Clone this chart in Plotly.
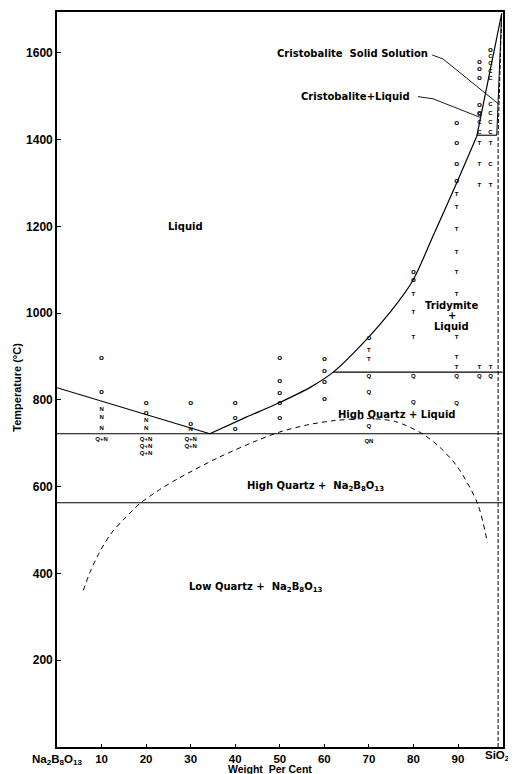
import plotly.graph_objects as go

# ---------------- data ----------------
# phase boundaries (weight % SiO2, temperature °C)
liq_left_x = [0, 34.3]
liq_left_t = [828, 722]
liq_trid_x = [34.3, 42, 50, 57, 62, 69.8, 75, 79.8, 84.5, 89.7, 94.2]
liq_trid_t = [722, 758, 794, 830, 864, 943, 1005, 1074, 1180, 1300, 1407]
liq_crist_x = [94.2, 97, 99.8]
liq_crist_t = [1407, 1548, 1690]
eutectic_t = 722
quartz_inv_t = 563
trid_quartz_x = [62, 100]
trid_quartz_t = [864, 864]
crist_trid_x = [94.2, 98.7]
crist_trid_t = [1410, 1410]
solidus_x = [98.7, 99.8]
solidus_t = [1410, 1690]
ss_limit_x = [99.0, 99.0, 99.8]
ss_limit_t = [0, 1410, 1690]
meta_x = [5.9, 7.5, 9.5, 12, 15, 18.6, 23, 27.6, 36, 44.8, 50, 56, 62, 70, 76, 82, 86, 90, 94.4, 96.6]
meta_t = [361, 405, 448, 490, 525, 561, 593, 621, 666, 706, 726, 742, 752, 757, 750, 722, 690, 644, 561, 471]

# experimental points by phase letter
o_x = [10, 10, 20, 20, 30, 30, 40, 40, 40, 50, 50, 50, 50, 50, 60, 60, 60, 60, 70, 80, 80,
       89.7, 89.7, 89.7, 89.7, 94.8, 94.8, 94.8, 94.8, 94.8, 97.3]
o_t = [897, 818, 793, 770, 793, 745, 793, 759, 733, 897, 844, 816, 794, 759, 894, 867, 842, 802, 943, 1094, 1076,
       1439, 1391, 1343, 1305, 1579, 1563, 1543, 1480, 1462, 1607]
n_x = [10, 10, 10, 20, 20, 30]
n_t = [779, 759, 733, 752, 733, 731]
qn_x = [10, 20, 20, 20, 30, 30]
qn_t = [708, 708, 692, 676, 708, 692]
q_x = [70, 70, 70, 80, 80, 89.7, 89.7, 94.8, 97.3]
q_t = [853, 816, 738, 853, 793, 853, 791, 853, 853]
qn2_x = [70]
qn2_t = [703]
t_x = [70, 70, 80, 80, 80, 89.7, 89.7, 89.7, 89.7, 89.7, 89.7, 89.7, 89.7, 89.7,
       94.8, 94.8, 94.8, 94.8, 97.3, 97.3, 97.3]
t_t = [913, 894, 1044, 1002, 943, 1273, 1244, 1193, 1140, 1094, 1044, 943, 897, 874,
       1391, 1343, 1294, 874, 1391, 1294, 874]
c_x = [94.8, 94.8, 94.8, 97.3, 97.3, 97.3, 97.3, 97.3, 97.3, 97.3, 97.3, 97.3]
c_t = [1458, 1439, 1416, 1591, 1575, 1556, 1540, 1480, 1460, 1439, 1416, 1343]

# axis ticks
x_tickvals = [0, 10, 20, 30, 40, 50, 60, 70, 80, 90, 100]
x_ticktext = ["Na<sub>2</sub>B<sub>8</sub>O<sub>13</sub>", "10", "20", "30", "40", "50",
              "60", "70", "80", "90", ""]
x_end_label = "SiO<sub>2</sub>"
y_tickvals = [200, 400, 600, 800, 1000, 1200, 1400, 1600]

# region labels
labels = [
    ("Liquid", 28.8, 1200),
    ("Cristobalite  Solid Solution", 66.4, 1598),
    ("Cristobalite+Liquid", 67.0, 1499),
    ("Tridymite", 88.6, 1018),
    ("+", 88.6, 994),
    ("Liquid", 88.6, 969),
    ("High Quartz + Liquid", 76.1, 766),
    ("High Quartz +  Na<sub>2</sub>B<sub>8</sub>O<sub>13</sub>", 58.1, 601),
    ("Low Quartz +  Na<sub>2</sub>B<sub>8</sub>O<sub>13</sub>", 44.7, 367),
]
leader1_x = [84.2, 86.6, 99.0]
leader1_t = [1595, 1586, 1483]
leader2_x = [81.0, 84.4, 95.0]
leader2_t = [1499, 1494, 1451]

FONT = "Liberation Sans"
LFONT = "DejaVu Sans"
fig = go.Figure()

def line(x, y, dash="solid", w=1.2, shape="linear"):
    fig.add_trace(go.Scatter(x=x, y=y, mode="lines",
                             line=dict(color="black", width=w, dash=dash, shape=shape, smoothing=0.8),
                             hoverinfo="skip", showlegend=False))

line(liq_left_x, liq_left_t)
line(liq_trid_x, liq_trid_t, shape="spline")
line(liq_crist_x, liq_crist_t)
line([0, 100], [eutectic_t, eutectic_t], w=1.1)
line([0, 100], [quartz_inv_t, quartz_inv_t], w=1.1)
line(trid_quartz_x, trid_quartz_t, w=1.1)
line(crist_trid_x, crist_trid_t, w=1.1)
line(solidus_x, solidus_t, w=1.0)
line(ss_limit_x, ss_limit_t, dash="4px,2px", w=1.0)
line(meta_x, meta_t, dash="5px,4px", w=1.0, shape="spline")
line(leader1_x, leader1_t, w=0.9)
line(leader2_x, leader2_t, w=0.9)

def pts(x, y, txt, size=7):
    fig.add_trace(go.Scatter(x=x, y=y, mode="text", text=[txt] * len(x),
                             textfont=dict(family=FONT, size=size, color="black", weight="bold"),
                             hoverinfo="skip", showlegend=False))

pts(o_x, o_t, "o", 8)
pts(n_x, n_t, "N", 6)
pts(qn_x, qn_t, "Q+N", 6)
pts(q_x, q_t, "Q", 6)
pts(qn2_x, qn2_t, "QN", 6)
pts(t_x, t_t, "T", 6)
pts(c_x, c_t, "C", 6)

annots = []
for txt, x, t in labels:
    annots.append(dict(x=x, y=t, xref="x", yref="y", text=txt, showarrow=False,
                       font=dict(family=LFONT, size=10, color="black", weight="bold"),
                       xanchor="center", yanchor="middle"))
annots.append(dict(x=-0.09, y=0.49, xref="paper", yref="paper", text="Temperature (°C)",
                   textangle=-90, showarrow=False, xanchor="center", yanchor="middle",
                   font=dict(family=FONT, size=11, color="black", weight="bold")))
annots.append(dict(x=0.478, y=-0.0305, xref="paper", yref="paper", text="Weight  Per Cent",
                   showarrow=False, xanchor="center", yanchor="middle",
                   font=dict(family=FONT, size=10.5, color="black", weight="bold")))
annots.append(dict(x=1.0205, y=-0.0125, xref="paper", yref="paper", text=x_end_label,
                   showarrow=False, xanchor="right", yanchor="middle",
                   font=dict(family=FONT, size=11.5, color="black", weight="bold")))

# the page body adds an 8px margin, so the figure is sized to fill the rest of the window
fig.update_layout(
    width=508, height=766,
    margin=dict(l=49, r=13, t=2, b=27),
    paper_bgcolor="white", plot_bgcolor="white",
    annotations=annots,
    xaxis=dict(range=[0, 100.1], tickvals=x_tickvals, ticktext=x_ticktext,
               ticks="inside", ticklen=3, tickcolor="black", showgrid=False, zeroline=False,
               showline=True, linecolor="black", linewidth=1.6, mirror=True,
               tickfont=dict(family=FONT, size=11.5, color="black", weight="bold")),
    yaxis=dict(range=[0, 1694], tickvals=y_tickvals, ticks="inside", ticklen=4,
               tickcolor="black", showgrid=False, zeroline=False,
               showline=True, linecolor="black", linewidth=1.6, mirror=True,
               tickfont=dict(family=FONT, size=12, color="black", weight="bold")),
)

fig.write_html("out.html")
